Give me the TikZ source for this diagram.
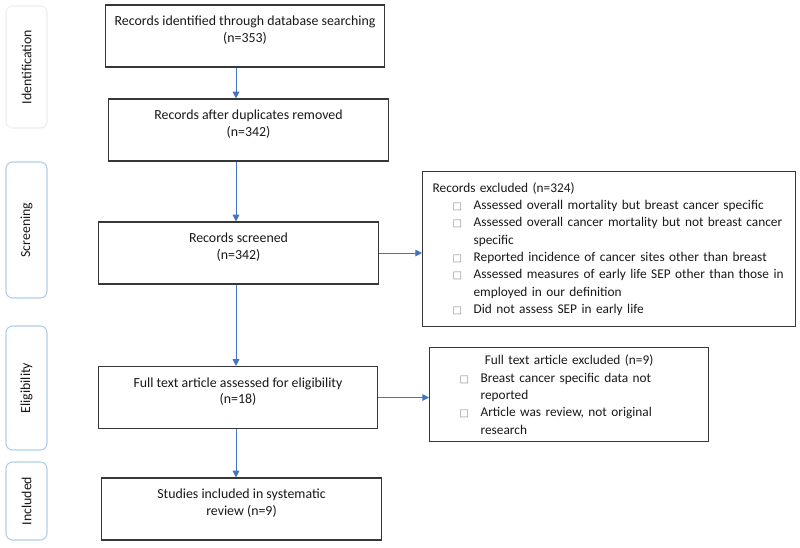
\documentclass[tikz,border=0pt]{standalone}
\usepackage{fontspec}
\setmainfont{Carlito}
\newfontfamily\symfont{DejaVu Sans}
\usetikzlibrary{arrows.meta}

\definecolor{arrowblue}{RGB}{68,114,196}
\definecolor{sideblue}{RGB}{178,206,234}
\definecolor{sidegrey}{RGB}{236,238,242}
\definecolor{boxgrey}{RGB}{55,55,55}
\definecolor{txt}{RGB}{25,25,25}

\newcommand{\exbox}{{\symfont\fontsize{7.5}{7.5}\selectfont\color{black!45}□}}
\newcommand{\exitem}[1]{\par\hangindent=30.75pt\hangafter=1\noindent\hspace*{15pt}\makebox[15.75pt][l]{\exbox}#1\par}

\tikzset{
  mainbox/.style={draw=boxgrey, line width=0.9pt, inner sep=0pt,
    minimum width=209.5pt, minimum height=46.5pt,
    execute at begin node={\begin{minipage}[c][46pt][t]{209pt}\centering\vspace*{8pt}},
    execute at end node={\end{minipage}}},
  sidebox/.style={draw=sideblue, line width=0.8pt, rounded corners=5pt,
    rotate=90, minimum height=30.75pt, inner sep=2pt},
  exclbox/.style={draw=boxgrey, line width=0.9pt, anchor=north west,
    inner xsep=7.5pt, inner ysep=5pt, align=left,
    font=\fontsize{10}{13}\selectfont,
    execute at begin node={\hyphenpenalty=10000\relax}},
  flow/.style={draw=arrowblue, line width=0.75pt, -{Triangle[length=5pt,width=5pt]}}
}

\begin{document}
\begin{tikzpicture}[x=0.75pt, y=-0.75pt, font=\fontsize{10.4}{12.6}\selectfont, text=txt]
\useasboundingbox[fill=white] (0,0) rectangle (800,547);
%
% stages on the left
\node[sidebox, draw=sidegrey, minimum width=91.5pt] (sideId) at (26.5,67) {Identification};
\node[sidebox, minimum width=102pt] (sideScr) at (26.5,230) {Screening};
\node[sidebox, minimum width=93pt] (sideElig) at (26.5,388) {Eligibility};
\node[sidebox, minimum width=58.5pt] (sideIncl) at (26.5,501) {Included};

% main column
\node[mainbox] (ident) at (245,36) {Records identified through database searching\\(n=353)};
\node[mainbox] (dedup) at (248.5,130) {Records after duplicates removed\\(n=342)};
\node[mainbox] (screen) at (238.5,253) {Records screened\\(n=342)};
\node[mainbox] (elig) at (238,397.5) {Full text article assessed for eligibility\\(n=18)};
\node[mainbox] (incl) at (241.5,509) {Studies included in systematic\\review (n=9)};

% excluded records
\node[exclbox, text width=264.75pt, minimum height=116.25pt] (exScr) at (422,171) {%
Records excluded (n=324)
\exitem{Assessed overall mortality but breast cancer specific}
\exitem{Assessed overall cancer mortality but not breast cancer\newline specific}
\exitem{Reported incidence of cancer sites other than breast}
\exitem{Assessed measures of early life SEP other than those in\newline employed in our definition}
\exitem{Did not assess SEP in early life}};

\node[exclbox, text width=194.25pt, minimum height=70.5pt] (exElig) at (429,347) {%
{\centering Full text article excluded (n=9)\par}
\exitem{Breast cancer specific data not\newline reported}
\exitem{Article was review, not original\newline research}};

% arrows
\coordinate (ax) at (236,0);
\draw[flow] (ident.south -| ax) -- (dedup.north -| ax);
\draw[flow] (dedup.south -| ax) -- (screen.north -| ax);
\draw[flow] (screen.south -| ax) -- (elig.north -| ax);
\draw[flow] (elig.south -| ax) -- (incl.north -| ax);
\draw[flow] (screen.east) -- (screen.east -| exScr.west);
\draw[flow] (elig.east) -- (elig.east -| exElig.west);

\end{tikzpicture}
\end{document}
